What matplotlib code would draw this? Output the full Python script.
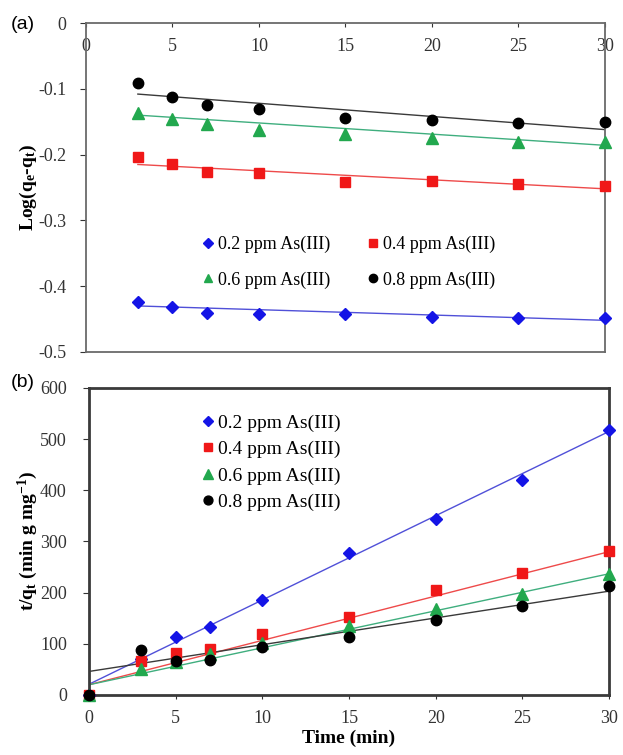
import matplotlib
matplotlib.use('Agg')
import matplotlib.pyplot as plt
import matplotlib.ticker
import numpy as np

plt.rcParams['font.family'] = ['Liberation Serif', 'DejaVu Serif']
plt.rcParams['mathtext.fontset'] = 'custom'
plt.rcParams['mathtext.rm'] = 'Liberation Serif:bold'
plt.rcParams['mathtext.it'] = 'Liberation Serif:bold'
plt.rcParams['mathtext.bf'] = 'Liberation Serif:bold'

LABELS = ['0.2 ppm As(III)', '0.4 ppm As(III)', '0.6 ppm As(III)', '0.8 ppm As(III)']
COLORS = ['#1414E6', '#F01818', '#22A84E', '#000000']
LINE_COLORS = ['#5050D8', '#EE4A4A', '#3FAE7E', '#3A3A3A']
MARKERS = ['D', 's', '^', 'o']
MSIZES = [6.5, 7.5, 8, 7.5]

# (a) pseudo-first-order: log(qe - qt) vs t
t_a = [3, 5, 7, 10, 15, 20, 25, 30]
log_a = [
    [-0.424, -0.431, -0.441, -0.442, -0.442, -0.447, -0.449, -0.448],
    [-0.204, -0.214, -0.226, -0.228, -0.241, -0.240, -0.245, -0.247],
    [-0.137, -0.146, -0.154, -0.162, -0.168, -0.174, -0.181, -0.181],
    [-0.091, -0.112, -0.125, -0.130, -0.145, -0.147, -0.152, -0.150],
]
fit_a_slope = [-0.00081, -0.00137, -0.0017, -0.0020]
fit_a_icpt = [-0.4276, -0.2109, -0.1349, -0.1020]

# (b) pseudo-second-order: t/qt vs t
t_b = [0, 3, 5, 7, 10, 15, 20, 25, 30]
tq_b = [
    [0, 70, 114, 132, 186, 278, 343, 421, 517],
    [0, 66, 82, 90, 119, 153, 205, 239, 282],
    [0, 51, 65, 80, 101, 135, 168, 197, 236],
    [0, 87, 67, 69, 93, 114, 147, 173, 213],
]
fit_b_slope = [16.47, 8.67, 7.23, 5.23]
fit_b_icpt = [21, 20, 20, 46]

fig = plt.figure(figsize=(6.23, 7.55), dpi=100)
ax1 = fig.add_axes([0.138, 0.5338, 0.833, 0.4357])
ax2 = fig.add_axes([0.1429, 0.0795, 0.8347, 0.4066])

# ---- panel (a)
xs = np.array([3, 30])
for i in range(4):
    ax1.plot(xs, fit_a_icpt[i] + fit_a_slope[i] * xs, color=LINE_COLORS[i], lw=1.0, zorder=2)
pts_a = []
for i in range(4):
    p, = ax1.plot(t_a, log_a[i], ls='none', marker=MARKERS[i], ms=MSIZES[i], color=COLORS[i],
                  label=LABELS[i], clip_on=False, zorder=3)
    pts_a.append(p)
ax1.set_xlim(0, 30)
ax1.set_ylim(-0.5, 0)
ax1.set_xticks([0, 5, 10, 15, 20, 25, 30])
ax1.set_yticks([0, -0.1, -0.2, -0.3, -0.4, -0.5])
ax1.yaxis.set_major_formatter(matplotlib.ticker.FuncFormatter(lambda v, _: '0' if v == 0 else f'{v:.1f}'))
ax1.tick_params(axis='x', top=True, bottom=False, labeltop=True, labelbottom=False,
                direction='in', length=3, pad=-23, labelsize=13, colors='#333333')
ax1.tick_params(axis='y', direction='out', length=4, pad=10, labelsize=13, colors='#333333')
for s in ax1.spines.values():
    s.set_color('#6a6a6a')
    s.set_linewidth(1.3)
# row-wise order: 0.2 0.4 / 0.6 0.8
order = [0, 2, 1, 3]
ax1.legend([pts_a[k] for k in order], [LABELS[k] for k in order], ncol=2, frameon=False,
           loc='upper left', bbox_to_anchor=(0.21, 0.375), markerscale=0.8,
           fontsize=13, handlelength=0.7, handletextpad=0.2, columnspacing=2.0,
           labelspacing=1.0, borderaxespad=0)

# ---- panel (b)
xs = np.array([0, 30])
for i in range(4):
    ax2.plot(xs, fit_b_icpt[i] + fit_b_slope[i] * xs, color=LINE_COLORS[i], lw=1.0, zorder=2)
for i in range(4):
    ax2.plot(t_b, tq_b[i], ls='none', marker=MARKERS[i], ms=MSIZES[i], color=COLORS[i],
             label=LABELS[i], clip_on=False, zorder=3)
ax2.set_xlim(0, 30)
ax2.set_ylim(0, 600)
ax2.set_xticks([0, 5, 10, 15, 20, 25, 30])
ax2.set_yticks([0, 100, 200, 300, 400, 500, 600])
ax2.tick_params(axis='x', direction='out', length=3, pad=8, labelsize=13, colors='#333333')
ax2.tick_params(axis='y', direction='out', length=4, pad=12, labelsize=13, colors='#333333')
for s in ax2.spines.values():
    s.set_color('#3a3a3a')
    s.set_linewidth(2.0)
ax2.legend(loc='upper left', bbox_to_anchor=(0.2, 0.94), frameon=False, markerscale=0.85,
           fontsize=14, handlelength=0.7, handletextpad=0.2, labelspacing=0.45,
           borderaxespad=0)
ax2.set_xlabel('Time (min)', fontsize=14, fontweight='bold', labelpad=2)

fig.text(0.045, 0.752, r'Log(q$_e$-q$_t$)', rotation=90, ha='center', va='center',
         fontsize=14, fontweight='bold')
fig.text(0.045, 0.283, r't/q$_t$ (min g mg$^{-1}$)', rotation=90, ha='center', va='center',
         fontsize=14, fontweight='bold')
fig.text(0.018, 0.967, '(a)', fontsize=14, family='Liberation Sans', va='center')
fig.text(0.018, 0.493, '(b)', fontsize=14, family='Liberation Sans', va='center')

fig.savefig('out.png', dpi=100)
